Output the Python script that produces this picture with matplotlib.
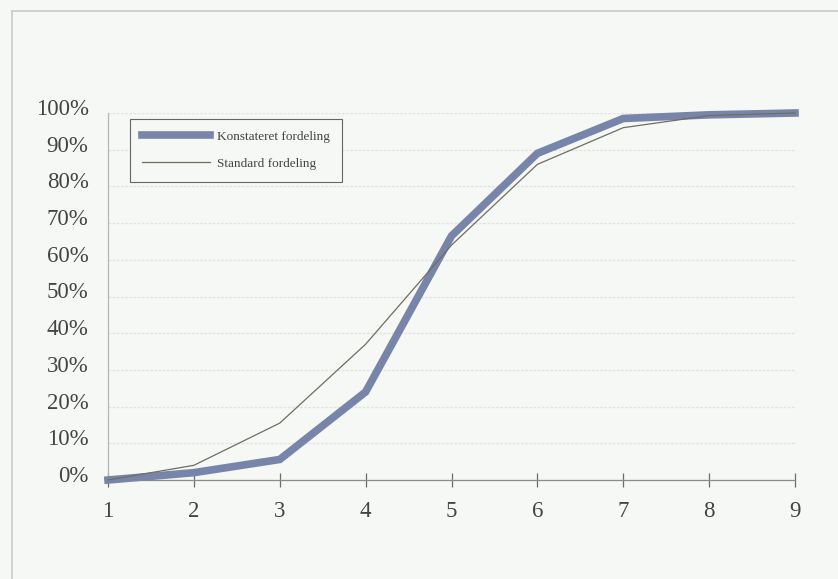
import matplotlib
matplotlib.use("Agg")
import matplotlib.pyplot as plt
from matplotlib.ticker import PercentFormatter
from matplotlib.transforms import ScaledTranslation

# values (share, 0..1)
x = [1, 2, 3, 4, 5, 6, 7, 8, 9]
konstateret = [0.0, 0.02, 0.056, 0.24, 0.665, 0.89, 0.985, 0.995, 1.0]
standard = [0.0, 0.04, 0.155, 0.37, 0.64, 0.86, 0.96, 0.993, 1.0]
yticks = [0, 0.1, 0.2, 0.3, 0.4, 0.5, 0.6, 0.7, 0.8, 0.9, 1.0]

bg = "#f5f8f4"
plt.rcParams["font.family"] = ["Liberation Serif", "DejaVu Serif"]

fig = plt.figure(figsize=(8.38, 5.79), dpi=100, facecolor=bg)
ax = fig.add_axes([108 / 838, 99 / 579, 687 / 838, 367 / 579], facecolor=bg)

# frame around the chart (only left and top edges show in the scan)
fig.add_artist(plt.Line2D([12 / 838, 12 / 838], [0, 1 - 11 / 579],
                          transform=fig.transFigure, color="#c8cac6", lw=1.2))
fig.add_artist(plt.Line2D([12 / 838, 1], [1 - 11 / 579, 1 - 11 / 579],
                          transform=fig.transFigure, color="#c8cac6", lw=1.2))

ax.plot(x, konstateret, color="#7785aa", lw=5.5, solid_joinstyle="miter",
        label="Konstateret fordeling", clip_on=False, zorder=3)
ax.plot(x, standard, color="#6e6e62", lw=0.9,
        label="Standard fordeling", clip_on=False, zorder=4)

ax.set_xlim(1, 9)
ax.set_ylim(0, 1)
ax.set_xticks(x)
ax.set_yticks(yticks)
ax.yaxis.set_major_formatter(PercentFormatter(1.0, decimals=0))
ax.grid(axis="y", color="#e2e4e0", lw=1.0, linestyle=(0, (2, 1)))
ax.set_axisbelow(True)

for s in ["top", "right"]:
    ax.spines[s].set_visible(False)
ax.spines["left"].set_color("#b5b7b3")
ax.spines["bottom"].set_color("#8a8c88")
ax.spines["left"].set_linewidth(0.9)
ax.spines["bottom"].set_linewidth(0.9)

ax.tick_params(axis="x", direction="inout", length=10, width=0.9, color="#6a6c68",
               labelsize=16.5, labelcolor="#444444", pad=10)
ax.tick_params(axis="y", length=0, labelsize=16.5, labelcolor="#444444", pad=14)

# y labels sit a little above their gridlines
for lab in ax.get_yticklabels():
    lab.set_transform(lab.get_transform() + ScaledTranslation(0, 6 / 100, fig.dpi_scale_trans))

leg = ax.legend(loc="upper left", bbox_to_anchor=(22 / 687, 1 - 6 / 367), fontsize=9.5,
                frameon=True, fancybox=False, edgecolor="#666666", facecolor=bg,
                handlelength=5.2, handletextpad=0.5, borderpad=0.9, labelspacing=1.1,
                borderaxespad=0, framealpha=1)
leg.get_frame().set_linewidth(0.8)
for t in leg.get_texts():
    t.set_color("#444444")

fig.savefig("out.png", dpi=100, facecolor=bg)
